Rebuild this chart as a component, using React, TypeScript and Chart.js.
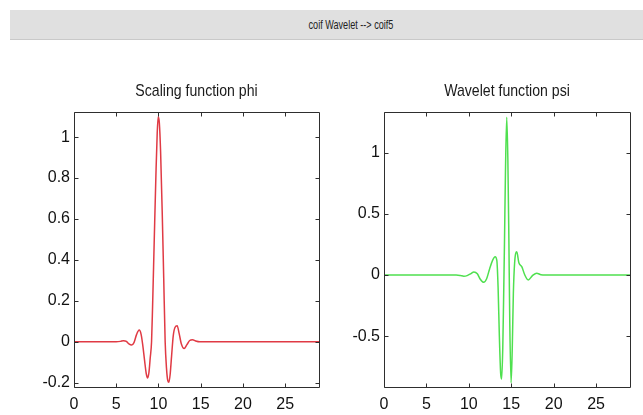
import React, { useEffect, useRef } from "react";
import { Chart, registerables } from "chart.js";

Chart.register(...registerables);

const FONT = '"Liberation Sans", Arial, Helvetica, sans-serif';

// Scaling function phi (coif5), sampled along its support [0, 29]
const PHI_X = [
  0, 5.0, 5.5, 5.85, 6.2, 6.5, 6.82, 7.1, 7.4, 7.72, 7.95, 8.15, 8.35, 8.55, 8.71,
  8.87, 9.02, 9.18, 9.3, 9.5, 9.7, 9.85, 9.97, 10.1, 10.25, 10.45, 10.62, 10.79,
  10.95, 11.1, 11.23, 11.38, 11.55, 11.75, 11.95, 12.21, 12.45, 12.7, 13.04, 13.35,
  13.7, 14.03, 14.4, 14.9, 16, 29,
];
const PHI_Y = [
  0, 0, 0.002, 0.005, 0.002, -0.01, -0.016, -0.004, 0.035, 0.057, 0.035, -0.02,
  -0.09, -0.155, -0.177, -0.15, -0.08, 0.0, 0.17, 0.5, 0.82, 1.02, 1.1, 1.07, 0.93,
  0.62, 0.31, 0.0, -0.13, -0.19, -0.198, -0.16, -0.07, 0.03, 0.07, 0.078, 0.04,
  -0.01, -0.033, -0.015, 0.006, 0.01, 0.004, 0, 0, 0,
];

// Wavelet function psi (coif5)
const PSI_X = [
  0, 8.5, 9.0, 9.4, 9.8, 10.2, 10.6, 11.0, 11.35, 11.75, 12.1, 12.45, 12.8, 13.1,
  13.3, 13.45, 13.6, 13.75, 13.87, 14.0, 14.1, 14.2, 14.32, 14.47, 14.6, 14.72,
  14.83, 14.98, 15.12, 15.25, 15.4, 15.65, 15.9, 16.24, 16.6, 17.0, 17.5, 18.0,
  18.5, 19, 29,
];
const PSI_Y = [
  0, 0, -0.004, -0.01, -0.005, 0.01, 0.025, 0.01, -0.035, -0.06, -0.03, 0.05, 0.12,
  0.15, 0.12, -0.1, -0.5, -0.8, -0.85, -0.6, -0.2, 0.25, 0.85, 1.29, 0.95, 0.3,
  -0.4, -0.88, -0.6, -0.15, 0.1, 0.19, 0.1, 0.068, 0.0, -0.04, -0.005, 0.015,
  0.003, 0, 0,
];

const X_TICKS = [0, 5, 10, 15, 20, 25];
const PHI_TICKS = [-0.2, 0, 0.2, 0.4, 0.6, 0.8, 1];
const PSI_TICKS = [-0.5, 0, 0.5, 1];

// Axes box with inward tick marks on all four sides, plus the panel title
const framePlugin = {
  id: "frame",
  afterDraw(chart: any, _args: any, opts: any) {
    const { ctx, chartArea: a, scales } = chart;
    const L = Math.round(a.left) + 0.5;
    const R = Math.round(a.right) + 0.5;
    const T = Math.round(a.top) + 0.5;
    const B = Math.round(a.bottom) + 0.5;
    const len = 4;
    ctx.save();
    ctx.strokeStyle = "#2e2e2e";
    ctx.lineWidth = 1;
    ctx.beginPath();
    ctx.rect(L, T, R - L, B - T);
    for (const t of scales.x.ticks) {
      const px = Math.round(scales.x.getPixelForValue(t.value)) + 0.5;
      ctx.moveTo(px, B);
      ctx.lineTo(px, B - len);
      ctx.moveTo(px, T);
      ctx.lineTo(px, T + len);
    }
    for (const t of scales.y.ticks) {
      const py = Math.round(scales.y.getPixelForValue(t.value)) + 0.5;
      ctx.moveTo(L, py);
      ctx.lineTo(L + len, py);
      ctx.moveTo(R, py);
      ctx.lineTo(R - len, py);
    }
    ctx.stroke();
    ctx.fillStyle = "#1a1a1a";
    ctx.font = `17px ${FONT}`;
    ctx.textAlign = "center";
    ctx.textBaseline = "middle";
    ctx.translate((a.left + a.right) / 2, a.top - 21);
    ctx.scale(0.83, 1);
    ctx.fillText(opts.text, 0, 0);
    ctx.restore();
  },
};

type PanelProps = {
  xs: number[];
  ys: number[];
  yTicks: number[];
  yMin: number;
  yMax: number;
  color: string;
  title: string;
  yAxisWidth: number;
  padRight: number;
  width: number;
  height: number;
  left: number;
  top: number;
};

function Panel(p: PanelProps) {
  const ref = useRef<HTMLCanvasElement | null>(null);

  useEffect(() => {
    if (!ref.current) return;
    const tickFont = { family: FONT, size: 16 };
    const chart = new Chart(ref.current, {
      type: "line",
      data: {
        datasets: [
          {
            data: p.xs.map((x, i) => ({ x, y: p.ys[i] })),
            borderColor: p.color,
            borderWidth: 1.5,
            pointRadius: 0,
            fill: false,
            cubicInterpolationMode: "monotone",
          },
        ],
      },
      options: {
        responsive: false,
        animation: false,
        devicePixelRatio: 1,
        layout: { padding: { left: 0, right: p.padRight, top: 52, bottom: 0 } },
        plugins: {
          legend: { display: false },
          tooltip: { enabled: false },
          title: { display: false },
          frame: { text: p.title },
        } as any,
        scales: {
          x: {
            type: "linear",
            min: 0,
            max: 29,
            grid: { display: false, drawTicks: false },
            border: { display: false },
            ticks: {
              padding: 8,
              font: tickFont,
              color: "#111",
              autoSkip: false,
              maxRotation: 0,
            },
            afterBuildTicks: (s: any) => {
              s.ticks = X_TICKS.map((v) => ({ value: v }));
            },
            afterFit: (s: any) => {
              s.height = 28;
            },
          },
          y: {
            type: "linear",
            min: p.yMin,
            max: p.yMax,
            grid: { display: false, drawTicks: false },
            border: { display: false },
            ticks: {
              padding: 4,
              font: tickFont,
              color: "#111",
              autoSkip: false,
              callback: (v: any) => String(Math.round(Number(v) * 10) / 10),
            },
            afterBuildTicks: (s: any) => {
              s.ticks = p.yTicks.map((v) => ({ value: v }));
            },
            afterFit: (s: any) => {
              s.width = p.yAxisWidth;
            },
          },
        },
      } as any,
      plugins: [framePlugin],
    });
    return () => chart.destroy();
  }, []);

  return (
    <canvas
      ref={ref}
      width={p.width}
      height={p.height}
      style={{
        position: "absolute",
        left: p.left,
        top: p.top,
        width: p.width,
        height: p.height,
      }}
    />
  );
}

export default function App() {
  return (
    <div
      style={{
        position: "fixed",
        left: 0,
        top: 0,
        width: 643,
        height: 415,
        background: "#ffffff",
        overflow: "hidden",
        fontFamily: FONT,
      }}
    >
      <div
        style={{
          position: "absolute",
          left: 10,
          top: 10,
          width: 633,
          height: 29,
          background: "#e0e0e0",
          borderBottom: "1px solid #c9c9c9",
        }}
      />
      <span
        style={{
          position: "absolute",
          left: 351,
          top: 24,
          transform: "translate(-50%, -50%) scaleX(0.7)",
          fontSize: 13,
          color: "#222",
          whiteSpace: "nowrap",
        }}
      >
        coif Wavelet --&gt; coif5
      </span>
      <Panel
        xs={PHI_X}
        ys={PHI_Y}
        yTicks={PHI_TICKS}
        yMin={-0.221}
        yMax={1.123}
        color="#e03a44"
        title="Scaling function phi"
        yAxisWidth={74}
        padRight={11}
        width={330}
        height={355}
        left={0}
        top={60}
      />
      <Panel
        xs={PSI_X}
        ys={PSI_Y}
        yTicks={PSI_TICKS}
        yMin={-0.915}
        yMax={1.332}
        color="#4fe04f"
        title="Wavelet function psi"
        yAxisWidth={54}
        padRight={13}
        width={313}
        height={355}
        left={330}
        top={60}
      />
    </div>
  );
}
